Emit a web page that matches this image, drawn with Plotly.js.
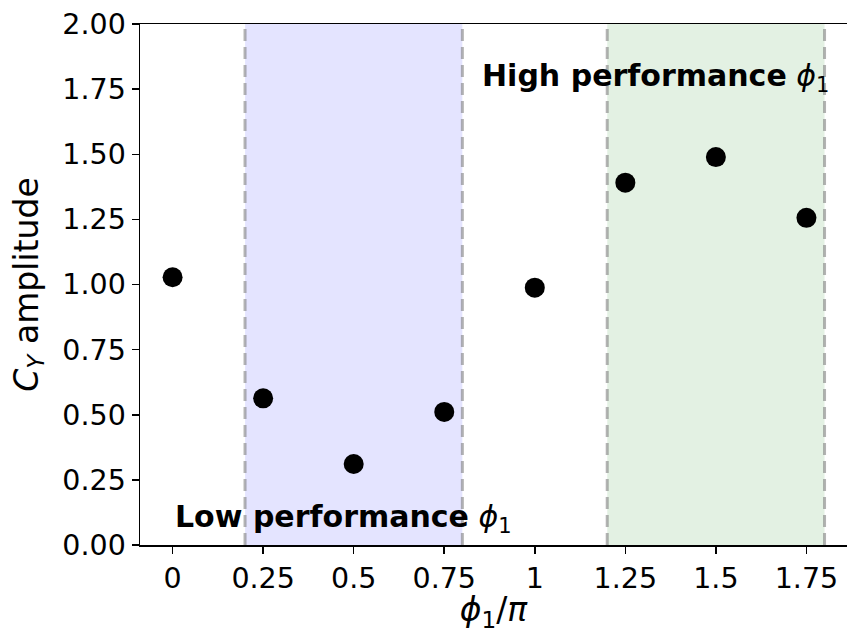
<!DOCTYPE html>
<html>
<head>
<meta charset="utf-8">
<script src="https://cdn.plot.ly/plotly-3.0.1.min.js"></script>
<style>
  html, body { margin: 0; padding: 0; background: #fff; }
  #chart { width: 847px; height: 633px; }
</style>
</head>
<body>
<div id="chart"></div>
<script>
// Phase values (in units of pi) and measured C_Y amplitude
const phase = [0, 0.25, 0.5, 0.75, 1.0, 1.25, 1.5, 1.75];
const amplitude = [1.028, 0.563, 0.311, 0.511, 0.988, 1.391, 1.489, 1.256];

const xTickVals = [0, 0.25, 0.5, 0.75, 1, 1.25, 1.5, 1.75];
const xTickText = ['0', '0.25', '0.5', '0.75', '1', '1.25', '1.5', '1.75'];
const yTickVals = [0, 0.25, 0.5, 0.75, 1.0, 1.25, 1.5, 1.75, 2.0];

// Shaded phase bands: [start, end]
const lowBand = [0.2, 0.8];
const highBand = [1.2, 1.8];

const bandStyle = [
  { band: lowBand, fill: 'rgba(0,0,255,0.105)' },
  { band: highBand, fill: 'rgba(0,128,0,0.11)' }
];

const shapes = [];
bandStyle.forEach(b => {
  shapes.push({
    type: 'rect', xref: 'x', yref: 'paper', layer: 'below',
    x0: b.band[0], x1: b.band[1], y0: 0, y1: 1,
    fillcolor: b.fill, line: { width: 0 }
  });
  b.band.forEach(edge => {
    shapes.push({
      type: 'line', xref: 'x', yref: 'paper', layer: 'below',
      x0: edge, x1: edge, y0: 0, y1: 1,
      line: { color: 'rgba(128,128,128,0.6)', width: 3, dash: '12px,6px' }
    });
  });
});

const trace = {
  x: phase,
  y: amplitude,
  type: 'scatter',
  mode: 'markers',
  marker: { color: '#000', size: 20, line: { width: 0 } },
  hoverinfo: 'skip'
};

const font = { family: 'DejaVu Sans, sans-serif', color: '#000' };

const layout = {
  width: 847, height: 633,
  margin: { l: 140, r: 0, t: 24, b: 88 },
  paper_bgcolor: '#fff',
  plot_bgcolor: '#fff',
  showlegend: false,
  font: Object.assign({ size: 28 }, font),
  xaxis: {
    range: [-0.09, 1.862],
    tickvals: xTickVals,
    ticktext: xTickText,
    ticks: 'outside', ticklen: 7, tickwidth: 1.5, tickcolor: '#000',
    showgrid: false, zeroline: false,
    showline: true, linecolor: '#000', linewidth: 1.5, mirror: true,
    tickfont: Object.assign({ size: 28.5 }, font),
    title: { text: '<i>ϕ</i><sub>1</sub>/<i>π</i>', font: Object.assign({ size: 33 }, font), standoff: 8 }
  },
  yaxis: {
    range: [0, 2],
    tickvals: yTickVals,
    tickformat: '.2f',
    ticks: 'outside', ticklen: 7, tickwidth: 1.5, tickcolor: '#000',
    showgrid: false, zeroline: false,
    showline: true, linecolor: '#000', linewidth: 1.5,
    tickfont: Object.assign({ size: 28.5 }, font),
    title: { text: '<i>C</i><sub><i>Y</i></sub> amplitude', font: Object.assign({ size: 33 }, font), standoff: 14 }
  },
  shapes: shapes,
  annotations: [
    {
      text: '<b>High performance</b> <i>ϕ</i><sub>1</sub>',
      xref: 'x', yref: 'y', x: 0.85, y: 1.795,
      xanchor: 'left', yanchor: 'middle', showarrow: false,
      font: Object.assign({ size: 30 }, font)
    },
    {
      text: '<b>Low performance</b> <i>ϕ</i><sub>1</sub>',
      xref: 'x', yref: 'y', x: 0.0, y: 0.10,
      xanchor: 'left', yanchor: 'middle', showarrow: false,
      font: Object.assign({ size: 30 }, font)
    }
  ]
};

Plotly.newPlot('chart', [trace], layout, { displayModeBar: false, staticPlot: true });
</script>
</body>
</html>
